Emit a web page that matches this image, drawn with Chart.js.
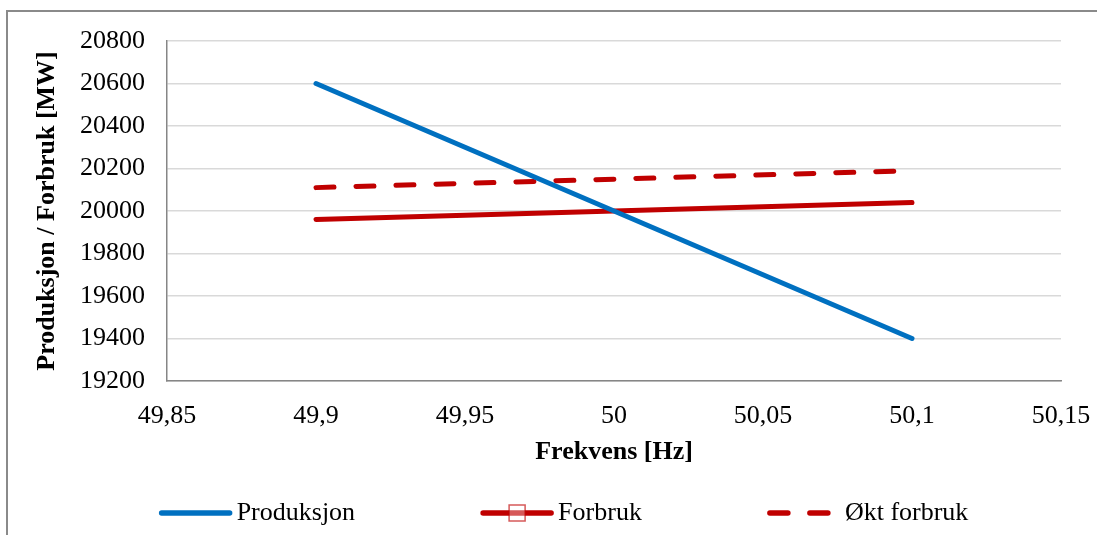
<!DOCTYPE html>
<html>
<head>
<meta charset="utf-8">
<script src="https://cdn.jsdelivr.net/npm/chart.js@4"></script>
<style>
  html, body { margin: 0; padding: 0; background: #fff; }
  canvas { display: block; }
</style>
</head>
<body>
<canvas id="chart" width="1097" height="535"></canvas>
<script>
// Frequency (Hz) and power (MW) values
const frequency = [49.9, 50, 50.1];
const produksjon = [20600, 20000, 19400];
const forbruk = [19960, 20000, 20040];
const oktForbruk = [20110, 20150, 20190];

const seriesNames = ['Produksjon', 'Forbruk', 'Økt forbruk'];

const xTickValues = [49.85, 49.9, 49.95, 50, 50.05, 50.1, 50.15];
const xTickLabels = ['49,85', '49,9', '49,95', '50', '50,05', '50,1', '50,15'];
const yTickValues = [19200, 19400, 19600, 19800, 20000, 20200, 20400, 20600, 20800];
const yTickLabels = ['19200', '19400', '19600', '19800', '20000', '20200', '20400', '20600', '20800'];

const FONT = '"Liberation Serif", "Times New Roman", serif';
const BLUE = '#0070C0';
const RED = '#C00000';

function points(ys) {
  return frequency.map((x, i) => ({ x: x, y: ys[i] }));
}

// Outer frame and bottom legend drawn on the canvas
const framePlugin = {
  id: 'frame',
  beforeDraw(chart) {
    const ctx = chart.ctx;
    ctx.save();
    ctx.strokeStyle = '#8a8a8a';
    ctx.lineWidth = 2;
    ctx.beginPath();
    ctx.moveTo(7, chart.height + 2);
    ctx.lineTo(7, 11);
    ctx.lineTo(chart.width + 2, 11);
    ctx.stroke();
    ctx.restore();
  }
};

const legendPlugin = {
  id: 'bottomLegend',
  afterDraw(chart) {
    const ctx = chart.ctx;
    const lineLen = 72, textGap = 5, itemGap = 126, y = 513, center = 564;
    ctx.save();
    ctx.font = '26px ' + FONT;
    ctx.textBaseline = 'middle';
    ctx.fillStyle = '#000';
    const widths = chart.data.datasets.map(ds => ctx.measureText(ds.label).width);
    let total = 0;
    widths.forEach(w => { total += lineLen + textGap + w; });
    total += itemGap * (widths.length - 1);
    let x = center - total / 2;
    chart.data.datasets.forEach((ds, i) => {
      ctx.strokeStyle = ds.borderColor;
      ctx.lineWidth = ds.borderWidth + 0.5;
      ctx.lineCap = 'round';
      ctx.setLineDash(ds.borderDash || []);
      ctx.beginPath();
      ctx.moveTo(x + 2, y);
      ctx.lineTo(x + lineLen - 2, y);
      ctx.stroke();
      ctx.setLineDash([]);
      if (ds.legendMarker) {
        const s = 16, cx = x + lineLen / 2;
        ctx.fillStyle = 'rgba(255,255,255,0.35)';
        ctx.fillRect(cx - s / 2, y - s / 2, s, s);
        ctx.strokeStyle = 'rgba(192,0,0,0.65)';
        ctx.lineWidth = 1.5;
        ctx.lineCap = 'butt';
        ctx.strokeRect(cx - s / 2, y - s / 2, s, s);
        ctx.fillStyle = '#000';
      }
      ctx.fillText(ds.label, x + lineLen + textGap, y);
      x += lineLen + textGap + widths[i] + itemGap;
    });
    ctx.restore();
  }
};

new Chart(document.getElementById('chart'), {
  type: 'line',
  data: {
    datasets: [
      {
        label: seriesNames[0],
        data: points(produksjon),
        borderColor: BLUE,
        borderWidth: 5,
        borderCapStyle: 'round',
        pointRadius: 0,
        fill: false
      },
      {
        label: seriesNames[1],
        data: points(forbruk),
        borderColor: RED,
        borderWidth: 5,
        borderCapStyle: 'round',
        pointRadius: 0,
        fill: false,
        legendMarker: true
      },
      {
        label: seriesNames[2],
        data: points(oktForbruk),
        borderColor: RED,
        borderWidth: 5,
        borderCapStyle: 'round',
        borderDash: [18, 22],
        pointRadius: 0,
        fill: false
      }
    ]
  },
  options: {
    responsive: false,
    animation: false,
    devicePixelRatio: 1,
    layout: { padding: { left: 0, top: 41, right: 36, bottom: 64 } },
    plugins: {
      legend: { display: false },
      tooltip: { enabled: false }
    },
    scales: {
      x: {
        type: 'linear',
        position: 'bottom',
        min: 49.85,
        max: 50.15,
        grid: { display: false, drawTicks: false },
        border: { display: true, color: '#868686', width: 1.5 },
        afterBuildTicks(scale) {
          scale.ticks = xTickValues.map(v => ({ value: v }));
        },
        afterFit(scale) {
          scale.height = 90;
          scale.paddingLeft = 0;
          scale.paddingRight = 0;
        },
        ticks: {
          autoSkip: false,
          maxRotation: 0,
          padding: 20,
          color: '#000',
          font: { family: FONT, size: 26 },
          callback: (v, i) => xTickLabels[i]
        },
        title: {
          display: true,
          text: 'Frekvens [Hz]',
          color: '#000',
          font: { family: FONT, size: 26, weight: 'bold' },
          padding: { top: 0, bottom: 3 }
        }
      },
      y: {
        type: 'linear',
        min: 19200,
        max: 20800,
        grid: { color: '#d9d9d9', lineWidth: 1.5, drawTicks: false },
        border: { display: true, color: '#868686', width: 1.5 },
        afterBuildTicks(scale) {
          scale.ticks = yTickValues.map(v => ({ value: v }));
        },
        afterFit(scale) {
          scale.width = 167;
          scale.paddingTop = 0;
          scale.paddingBottom = 0;
        },
        ticks: {
          padding: 22,
          color: '#000',
          font: { family: FONT, size: 26 },
          callback: (v, i) => yTickLabels[i]
        },
        title: {
          display: true,
          text: 'Produksjon / Forbruk [MW]',
          color: '#000',
          font: { family: FONT, size: 26, weight: 'bold' },
          padding: { top: 32, bottom: 0 }
        }
      }
    }
  },
  plugins: [framePlugin, legendPlugin]
});
</script>
</body>
</html>
